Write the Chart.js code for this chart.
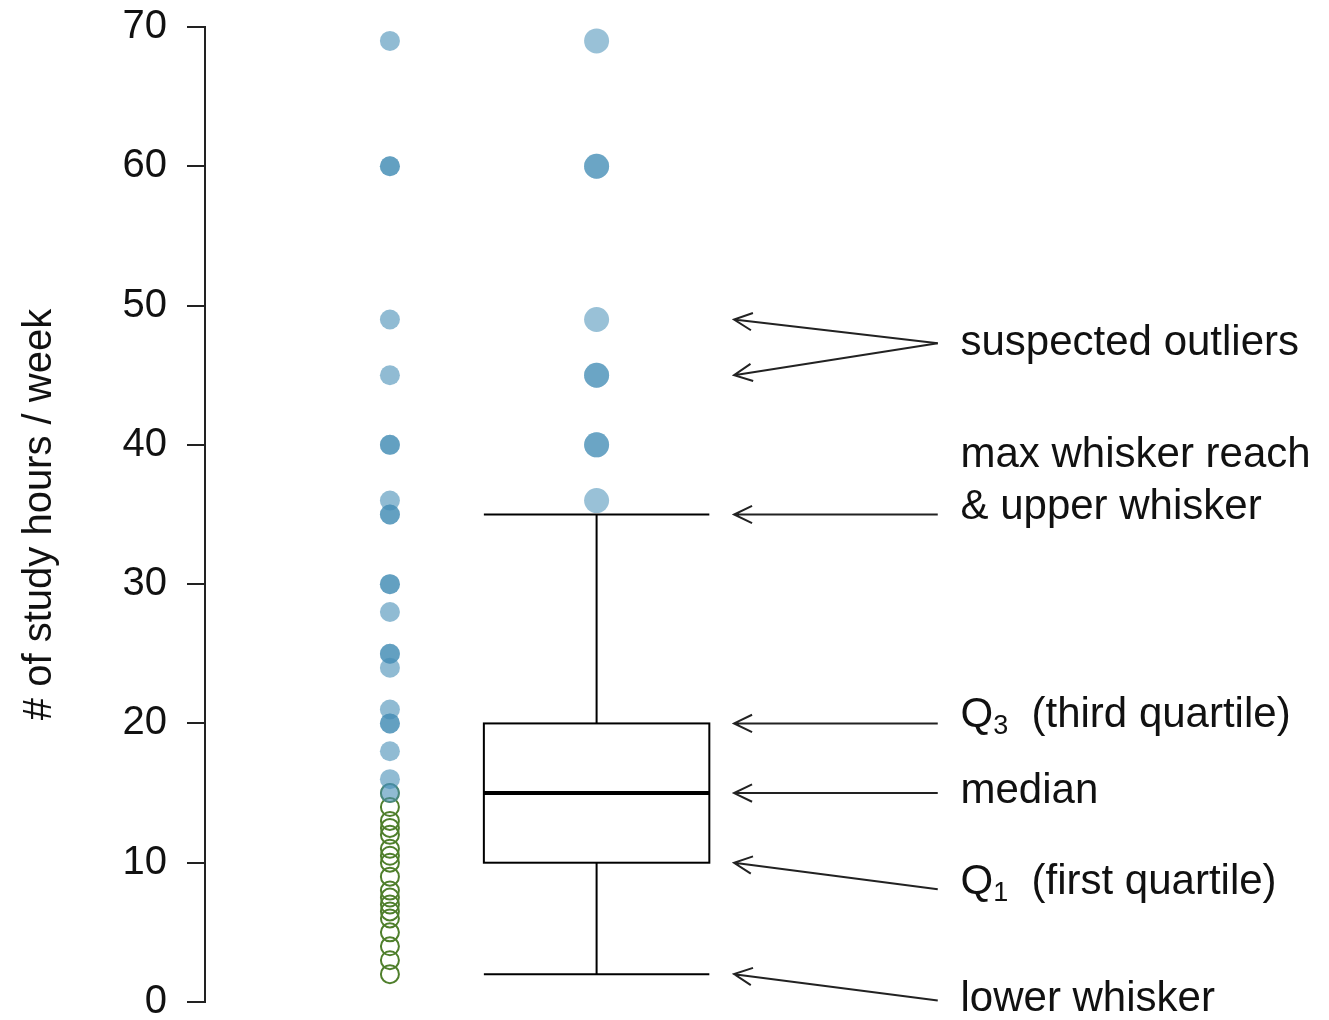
<!DOCTYPE html>
<html>
<head>
<meta charset="utf-8">
<script src="https://cdn.jsdelivr.net/npm/chart.js@4/dist/chart.umd.min.js"></script>
<style>
  body { margin: 0; background: #fff; }
  canvas { display: block; }
</style>
</head>
<body>
<canvas id="myChart" width="1329" height="1020"></canvas>
<script>
// study hours per week
const stripHigh = [69, 60, 60, 49, 45, 40, 40, 36, 35, 35, 30, 30, 28, 25, 25, 24, 21, 20, 20, 18, 16, 15];
const stripLow = [2, 3, 4, 5, 6, 6.5, 7, 7.5, 8, 9, 10, 10.5, 11, 12, 12.5, 13, 14, 15];
const outliers = [69, 60, 60, 49, 45, 45, 40, 40, 36];
const boxStats = { lower: 2, q1: 10, median: 15, q3: 20, upper: 35 };
const yTicks = [0, 10, 20, 30, 40, 50, 60, 70];

// horizontal positions (scale units = px right of the axis)
const stripX = 187;
const boxX = 396;
const boxHalf = 114;
const arrowTip = 535;
const arrowTail = 741;
const textX = 764;

const labels = [
  { lines: ["suspected outliers"], y: 47.3, arrows: [49, 45] },
  { lines: ["max whisker reach", "& upper whisker"], y: 37.4, arrows: [35], arrowFrom: 35 },
  { lines: ["Q|3|  (third quartile)"], y: 20.6, arrows: [20], arrowFrom: 20 },
  { lines: ["median"], y: 15.1, arrows: [15], arrowFrom: 15 },
  { lines: ["Q|1|  (first quartile)"], y: 8.6, arrows: [10], arrowFrom: 8.1 },
  { lines: ["lower whisker"], y: 0.2, arrows: [2], arrowFrom: 0.1 },
];

const FONT = "'Liberation Sans', Arial, sans-serif";

const boxPlugin = {
  id: "boxAndNotes",
  afterDatasetsDraw(chart) {
    const c = chart.ctx;
    const xs = chart.scales.x;
    const ys = chart.scales.y;
    const px = (v) => xs.getPixelForValue(v);
    const py = (v) => ys.getPixelForValue(v);
    c.save();
    c.strokeStyle = "#000";
    c.lineWidth = 2;
    // box
    c.strokeRect(px(boxX - boxHalf), py(boxStats.q3), px(boxX + boxHalf) - px(boxX - boxHalf), py(boxStats.q1) - py(boxStats.q3));
    // whiskers
    c.beginPath();
    c.moveTo(px(boxX), py(boxStats.q3)); c.lineTo(px(boxX), py(boxStats.upper));
    c.moveTo(px(boxX), py(boxStats.q1)); c.lineTo(px(boxX), py(boxStats.lower));
    c.moveTo(px(boxX - boxHalf), py(boxStats.upper)); c.lineTo(px(boxX + boxHalf), py(boxStats.upper));
    c.moveTo(px(boxX - boxHalf), py(boxStats.lower)); c.lineTo(px(boxX + boxHalf), py(boxStats.lower));
    c.stroke();
    // median
    c.lineWidth = 4;
    c.beginPath();
    c.moveTo(px(boxX - boxHalf), py(boxStats.median)); c.lineTo(px(boxX + boxHalf), py(boxStats.median));
    c.stroke();

    // arrows + text
    c.lineWidth = 2;
    c.strokeStyle = "#222";
    c.fillStyle = "#111";
    c.textBaseline = "middle";
    labels.forEach((l) => {
      const fromY = l.arrowFrom !== undefined ? l.arrowFrom : l.y;
      l.arrows.forEach((t) => {
        const x0 = px(arrowTail), y0 = py(fromY);
        const x1 = px(arrowTip), y1 = py(t);
        c.beginPath();
        c.moveTo(x0, y0); c.lineTo(x1, y1);
        const a = Math.atan2(y0 - y1, x0 - x1);
        const h = 20;
        c.moveTo(x1 + h * Math.cos(a + 0.45), y1 + h * Math.sin(a + 0.45));
        c.lineTo(x1, y1);
        c.lineTo(x1 + h * Math.cos(a - 0.45), y1 + h * Math.sin(a - 0.45));
        c.stroke();
      });
      const lh = 52;
      l.lines.forEach((txt, i) => {
        const y = py(l.y) + (i - (l.lines.length - 1) / 2) * lh;
        let x = px(textX);
        txt.split("|").forEach((part, k) => {
          if (k === 1) {
            c.font = "27px " + FONT;
            c.fillText(part, x, y + 11);
          } else {
            c.font = "42px " + FONT;
            c.fillText(part, x, y);
          }
          x += c.measureText(part).width;
        });
      });
    });
    c.restore();
  },
};

new Chart(document.getElementById("myChart"), {
  type: "scatter",
  data: {
    datasets: [
      {
        data: stripHigh.map((v) => ({ x: stripX, y: v })),
        backgroundColor: "rgba(70,142,182,0.6)",
        borderWidth: 0,
        pointRadius: 10,
      },
      {
        data: stripLow.map((v) => ({ x: stripX, y: v })),
        backgroundColor: "rgba(0,0,0,0)",
        borderColor: "#4f7f2c",
        borderWidth: 2,
        pointRadius: 9,
      },
      {
        data: outliers.map((v) => ({ x: boxX, y: v })),
        backgroundColor: "rgba(70,142,182,0.55)",
        borderWidth: 0,
        pointRadius: 12.5,
      },
    ],
  },
  options: {
    responsive: false,
    animation: false,
    layout: { padding: { top: 27, bottom: 18, left: 0, right: 0 } },
    plugins: { legend: { display: false }, tooltip: { enabled: false } },
    scales: {
      x: { display: false, min: 0, max: 1124 },
      y: {
        min: 0,
        max: 70,
        afterFit(scale) {
          scale.width = 205;
          scale.paddingTop = 0;
          scale.paddingBottom = 0;
        },
        afterBuildTicks(scale) { scale.ticks = yTicks.map((v) => ({ value: v })); },
        border: { display: true, color: "#222", width: 2 },
        grid: { drawOnChartArea: false, tickLength: 18, color: "#222", lineWidth: 2 },
        ticks: { color: "#111", font: { family: FONT, size: 40 }, padding: 20 },
        title: {
          display: true,
          text: "# of study hours / week",
          color: "#111",
          font: { family: FONT, size: 40 },
          padding: { top: 16, bottom: 0 },
        },
      },
    },
  },
  plugins: [boxPlugin],
});
</script>
</body>
</html>
